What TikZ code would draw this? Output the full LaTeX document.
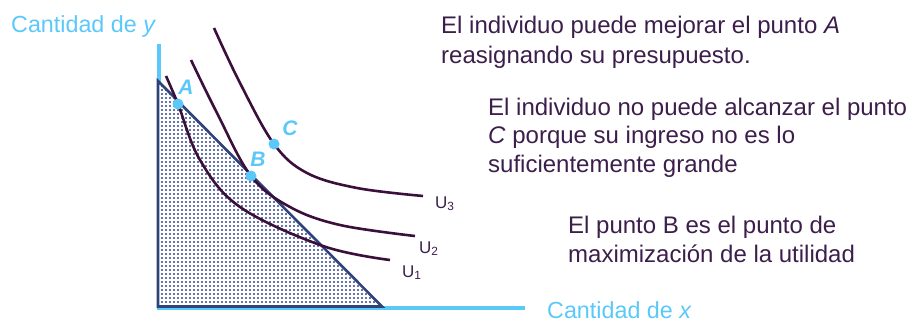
\documentclass[tikz,border=0pt]{standalone}
\usepackage{fontspec}
\setmainfont{Liberation Sans}
\usetikzlibrary{patterns.meta}
\definecolor{axisblue}{HTML}{5BC8FA}
\definecolor{navy}{HTML}{2E4379}
\definecolor{dotblue}{HTML}{6573B0}
\definecolor{curve}{HTML}{3B0F3B}
\definecolor{txt}{HTML}{3C1E4B}
\tikzdeclarepattern{name=griddots, type=uncolored, bottom left={(-.1pt,-.1pt)}, top right={(4pt,4pt)}, tile size={(4pt,4pt)}, code={\fill (1pt,1pt) rectangle (3pt,3pt);}}
\tikzset{
  axis/.style={axisblue, line width=4pt},
  ucurve/.style={curve, line width=2.6pt},
  budget/.style={navy, line width=2.6pt, line join=miter},
  ptdot/.style={circle, fill=axisblue, inner sep=0pt, minimum size=11pt},
  ptlab/.style={text=axisblue, font=\fontsize{21}{24}\selectfont\bfseries\itshape, inner sep=0pt},
  axlab/.style={text=axisblue, font=\fontsize{23.3}{26}\selectfont, anchor=base west, inner sep=0pt},
  note/.style={text=txt, anchor=base west, inner sep=0pt, align=left},
  ulab/.style={text=txt, font=\fontsize{17}{19}\selectfont, anchor=base west, inner sep=0pt}
}
\begin{document}
\begin{tikzpicture}[x=1pt,y=-1pt]
\useasboundingbox (0,0) rectangle (912,324);
% axes
\coordinate (O) at (158.5,308);
\coordinate (Ytop) at (158.5,44);
\coordinate (Xend) at (525,308);
\draw[axis] (Ytop) -- (O) -- (Xend);
% budget set
\coordinate (P) at (158,81);
\coordinate (Q) at (382,306.5);
\coordinate (R) at (158,306.5);
\fill[white] (P) -- (Q) -- (R) -- cycle;
\fill[pattern={griddots}, pattern color=dotblue] (P) -- (Q) -- (R) -- cycle;
\draw[budget] (R) -- (P) -- (Q) -- cycle;
% indifference curves
\draw[ucurve] plot[smooth, tension=0.6] coordinates {(166,76) (178,104) (200,160) (240,207) (323,246) (390,260)};
\draw[ucurve] plot[smooth, tension=0.6] coordinates {(191,60) (217,113) (251,176) (290,207) (340,225) (415,236)};
\draw[ucurve] plot[smooth, tension=0.6] coordinates {(214,28) (240,83) (274,144) (307,173) (357,188) (423,196)};
% points
\node[ptdot] (A) at (178,104) {};
\node[ptdot] (B) at (251,176) {};
\node[ptdot] (C) at (274,144) {};
\node[ptlab] (Alab) at (186,87) {A};
\node[ptlab] (Blab) at (258,159) {B};
\node[ptlab] (Clab) at (290,128) {C};
% curve labels
\node[ulab] (U3) at (435,208) {U\textsubscript{3}};
\node[ulab] (U2) at (419,253) {U\textsubscript{2}};
\node[ulab] (U1) at (402,277) {U\textsubscript{1}};
% axis labels
\node[axlab] (ylab) at (11,32) {Cantidad de \textit{y}};
\node[axlab] (xlab) at (547,318) {Cantidad de \textit{x}};
% notes
\node[note, font=\fontsize{24}{30}\selectfont] (n1) at (441,63) {El individuo puede mejorar el punto \textit{A}\\reasignando su presupuesto.};
\node[note, font=\fontsize{24}{28.5}\selectfont] (n2) at (488,172) {El individuo no puede alcanzar el punto\\\textit{C} porque su ingreso no es lo\\suficientemente grande};
\node[note, font=\fontsize{24}{29}\selectfont] (n3) at (568,262) {El punto B es el punto de\\maximización de la utilidad};
\end{tikzpicture}
\end{document}
